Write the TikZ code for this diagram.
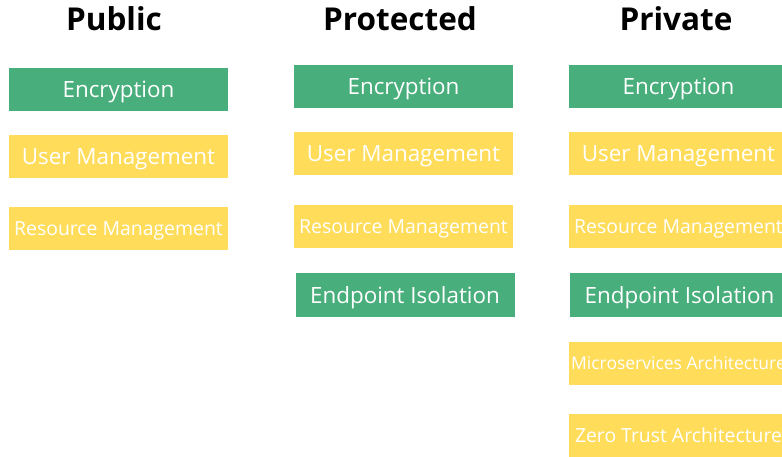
\documentclass[tikz,border=0pt]{standalone}
\usepackage{fontspec}
\setmainfont{Open Sans}
\usepackage{xcolor}
\usetikzlibrary{positioning}
\definecolor{tileGreen}{RGB}{72,174,124}
\definecolor{tileYellow}{RGB}{255,220,90}

\begin{document}
\begin{tikzpicture}[
  x=1pt, y=-1pt,
  every node/.style={inner sep=0pt, anchor=center, text depth=0pt},
  head/.style={font=\fontsize{31.5}{34}\selectfont\bfseries, text=black,
    text height=22.5pt},
  tile/.style={minimum width=219pt, minimum height=43pt, text=white,
    font=\fontsize{22.4}{26}\selectfont, text height=16pt},
  secure/.style={tile, fill=tileGreen},
  mgmt/.style={tile, fill=tileYellow},
  small/.style={font=\fontsize{19.4}{22}\selectfont, text height=13.9pt},
  tiny/.style={font=\fontsize{17.5}{20}\selectfont, text height=12.5pt}
]
  \useasboundingbox (0,0) rectangle (782,457);
  \clip (0,0) rectangle (782,457);
  % ----- column heads -----
  \node[head] (Hpub) at (114,19) {Public};
  \node[head] (Hpro) at (400,19) {Protected};
  \node[head] (Hpri) at (676,19) {Private};
  % ----- public -----
  \node[secure] (Enc0) at (118.5,89.5) {Encryption};
  \node[mgmt] (UM0) at (118.5,156.5) {User Management};
  \node[mgmt, small] (RM0) at (118.5,228.5) {Resource Management};
  % ----- protected -----
  \node[secure] (Enc1) at (403.5,86.5) {Encryption};
  \node[mgmt] (UM1) at (403.5,153.5) {User Management};
  \node[mgmt, small] (RM1) at (403.5,226.5) {Resource Management};
  \node[secure] (EI1) at (405,295) {Endpoint Isolation};
  % ----- private (runs off the right edge) -----
  \node[secure] (Enc2) at (678.5,86.5) {Encryption};
  \node[mgmt] (UM2) at (678.5,153.5) {User Management};
  \node[mgmt, small] (RM2) at (678.5,226.5) {Resource Management};
  \node[secure] (EI2) at (679.5,295) {Endpoint Isolation};
  \node[mgmt, tiny] (MA2) at (678.5,363) {Microservices Architecture};
  \node[mgmt, small] (ZT2) at (678.5,435.5) {Zero Trust Architecture};
\end{tikzpicture}
\end{document}
